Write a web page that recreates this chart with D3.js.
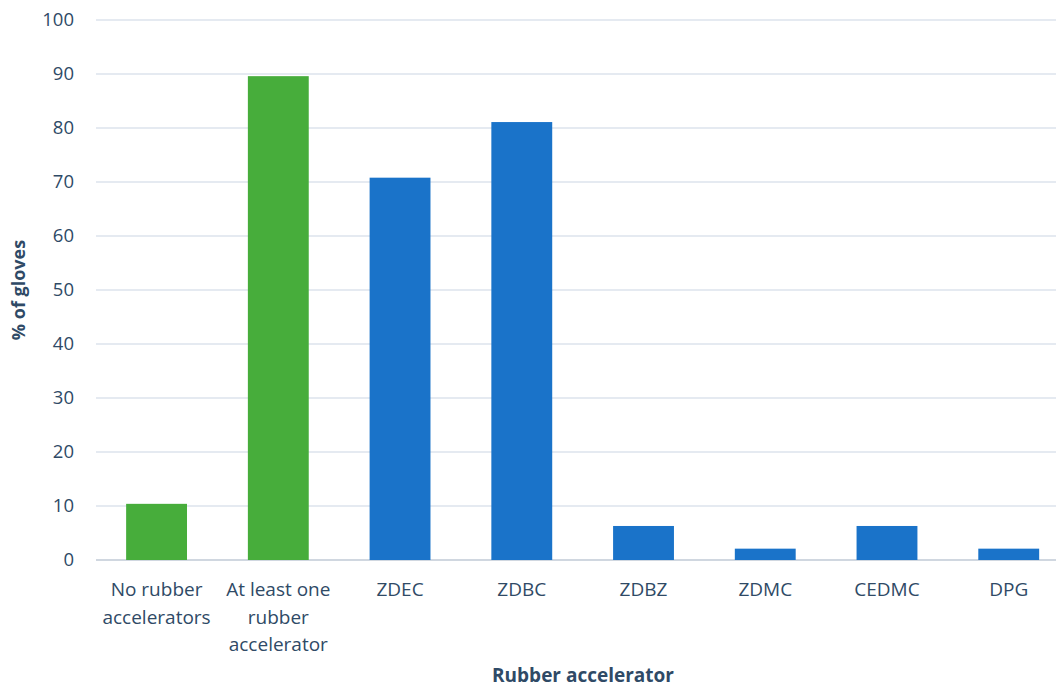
<!DOCTYPE html>
<html><head><meta charset="utf-8">
<script src="https://cdn.jsdelivr.net/npm/d3@7"></script>
<style>body{margin:0;background:#fff}svg{display:block}</style>
</head><body><svg id="c" width="1056" height="688"></svg>
<script>
const categories = ["No rubber accelerators","At least one rubber accelerator","ZDEC","ZDBC","ZDBZ","ZDMC","CEDMC","DPG"];
const labelLines = [["No rubber","accelerators"],["At least one","rubber","accelerator"],["ZDEC"],["ZDBC"],["ZDBZ"],["ZDMC"],["CEDMC"],["DPG"]];
const values = [10.4, 89.6, 70.8, 81.1, 6.3, 2.1, 6.3, 2.1];
const groups = ["summary","summary","single","single","single","single","single","single"];
const yTicks = [0,10,20,30,40,50,60,70,80,90,100];
const colors = {summary:"#47ad3b", single:"#1a73c9"};
const textColor = "#2f4a66";
const font = "'Open Sans', sans-serif";

const svg = d3.select("#c");
const x = d3.scaleBand().domain(categories).range([95.7, 1069.6]).paddingInner(0.5).paddingOuter(0.25);
const y = d3.scaleLinear().domain([0,100]).range([560, 20]);

// gridlines
svg.append("g").selectAll("line").data(yTicks).join("line")
  .attr("x1", 96).attr("x2", 1056)
  .attr("y1", d => y(d)).attr("y2", d => y(d))
  .attr("stroke", d => d === 0 ? "#d0d7e0" : "#dde3ec").attr("stroke-width", d => d===0?2:1.5);

// y tick labels
svg.append("g").selectAll("text").data(yTicks).join("text")
  .attr("x", 74).attr("y", d => y(d)).attr("dy", "0.35em")
  .attr("text-anchor", "end").attr("fill", textColor)
  .style("font-family", font).style("font-size", "18.5px").text(d => d);

// bars
svg.append("g").selectAll("rect").data(categories).join("rect")
  .attr("x", d => x(d)).attr("width", x.bandwidth())
  .attr("y", (d,i) => y(values[i])).attr("height", (d,i) => y(0) - y(values[i]))
  .attr("fill", (d,i) => colors[groups[i]]);

// x labels
const xl = svg.append("g").selectAll("text").data(categories).join("text")
  .attr("x", d => x(d) + x.bandwidth()/2).attr("y", 596)
  .attr("text-anchor", "middle").attr("fill", textColor)
  .style("font-family", font).style("font-size", "19px");
xl.each(function(d,i){
  d3.select(this).selectAll("tspan").data(labelLines[i]).join("tspan")
    .attr("x", x(d) + x.bandwidth()/2).attr("dy", (t,j) => j===0 ? 0 : 27.5).text(t => t);
});

// axis titles
svg.append("text").attr("x", 583).attr("y", 682).attr("text-anchor","middle")
  .attr("fill", textColor).style("font-family", font).style("font-size","19px").style("font-weight","bold")
  .text("Rubber accelerator");
svg.append("text").attr("transform","translate(25,290) rotate(-90)").attr("text-anchor","middle")
  .attr("fill", textColor).style("font-family", font).style("font-size","18px").style("font-weight","bold")
  .text("% of gloves");
</script></body></html>
